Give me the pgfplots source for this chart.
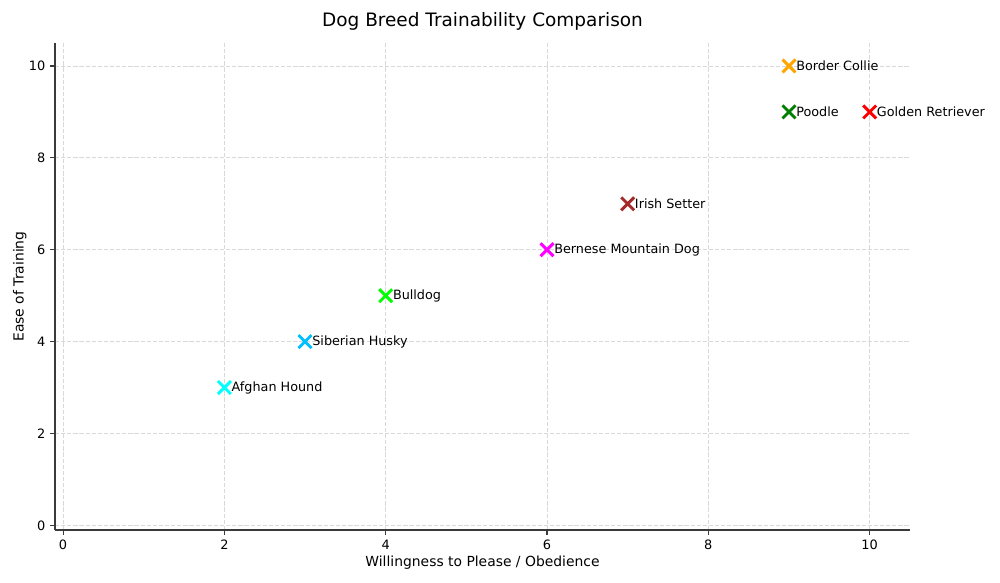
\documentclass[border=0pt]{standalone}
\usepackage{pgfplots}
\pgfplotsset{compat=1.18}
\usepackage{fontspec}
\setmainfont{DejaVu Sans}

\definecolor{spinegray}{HTML}{3A3A3A}
\definecolor{gridgray}{HTML}{D9D9D9}
\definecolor{mplorange}{HTML}{FFA500}
\definecolor{mplgreen}{HTML}{008000}
\definecolor{mplred}{HTML}{FF0000}
\definecolor{mplbrown}{HTML}{A52A2A}
\definecolor{mplmagenta}{HTML}{FF00FF}
\definecolor{mpllime}{HTML}{00FF00}
\definecolor{mplskyblue}{HTML}{00BFFF}
\definecolor{mplcyan}{HTML}{00FFFF}

\pgfplotsset{
  breed/.style={
    only marks, mark=x, mark size=6.6pt, line width=2.1pt, color=#1,
  },
}

\begin{document}
\begin{tikzpicture}[x=1pt,y=1pt]
\useasboundingbox (0,0) rectangle (720,419.76);
\begin{axis}[
  at={(39.6pt,38.16pt)}, anchor=south west,
  scale only axis, width=615.6pt, height=350.64pt,
  xmin=-0.1, xmax=10.5, ymin=-0.1, ymax=10.5,
  axis lines*=left,
  axis line style={spinegray, line width=0.8pt},
  xtick={0,2,4,6,8,10}, ytick={0,2,4,6,8,10},
  tick align=outside, major tick length=3.5pt,
  tick style={spinegray, line width=0.8pt},
  ticklabel style={font=\fontsize{9.3}{11}\selectfont},
  /pgf/number format/assume math mode=true,
  grid=major,
  major grid style={gridgray, dash pattern=on 3pt off 1.4pt, line width=0.6pt},
  title={Dog Breed Trainability Comparison},
  title style={at={(axis description cs:0.5,1.027)}, anchor=center, yshift=0pt, font=\fontsize{13.3}{16}\selectfont},
  xlabel={Willingness to Please / Obedience},
  xlabel style={at={(axis description cs:0.5,-0.0678)}, anchor=center, yshift=0pt, font=\fontsize{10}{12}\selectfont},
  ylabel={Ease of Training},
  ylabel style={at={(axis description cs:-0.0411,0.5)}, anchor=center, font=\fontsize{10}{12}\selectfont},
  clip=false,
  every node near coord/.style={anchor=west, xshift=4.2pt, inner sep=0pt, text=black, font=\fontsize{9.2}{11}\selectfont},
]
\addplot[breed=mplorange, nodes near coords={Border Collie}] coordinates {(9,10)};
\addplot[breed=mplgreen, nodes near coords={Poodle}] coordinates {(9,9)};
\addplot[breed=mplred, nodes near coords={Golden Retriever}] coordinates {(10,9)};
\addplot[breed=mplbrown, nodes near coords={Irish Setter}] coordinates {(7,7)};
\addplot[breed=mplmagenta, nodes near coords={Bernese Mountain Dog}] coordinates {(6,6)};
\addplot[breed=mpllime, nodes near coords={Bulldog}] coordinates {(4,5)};
\addplot[breed=mplskyblue, nodes near coords={Siberian Husky}] coordinates {(3,4)};
\addplot[breed=mplcyan, nodes near coords={Afghan Hound}] coordinates {(2,3)};
\end{axis}
\end{tikzpicture}
\end{document}
